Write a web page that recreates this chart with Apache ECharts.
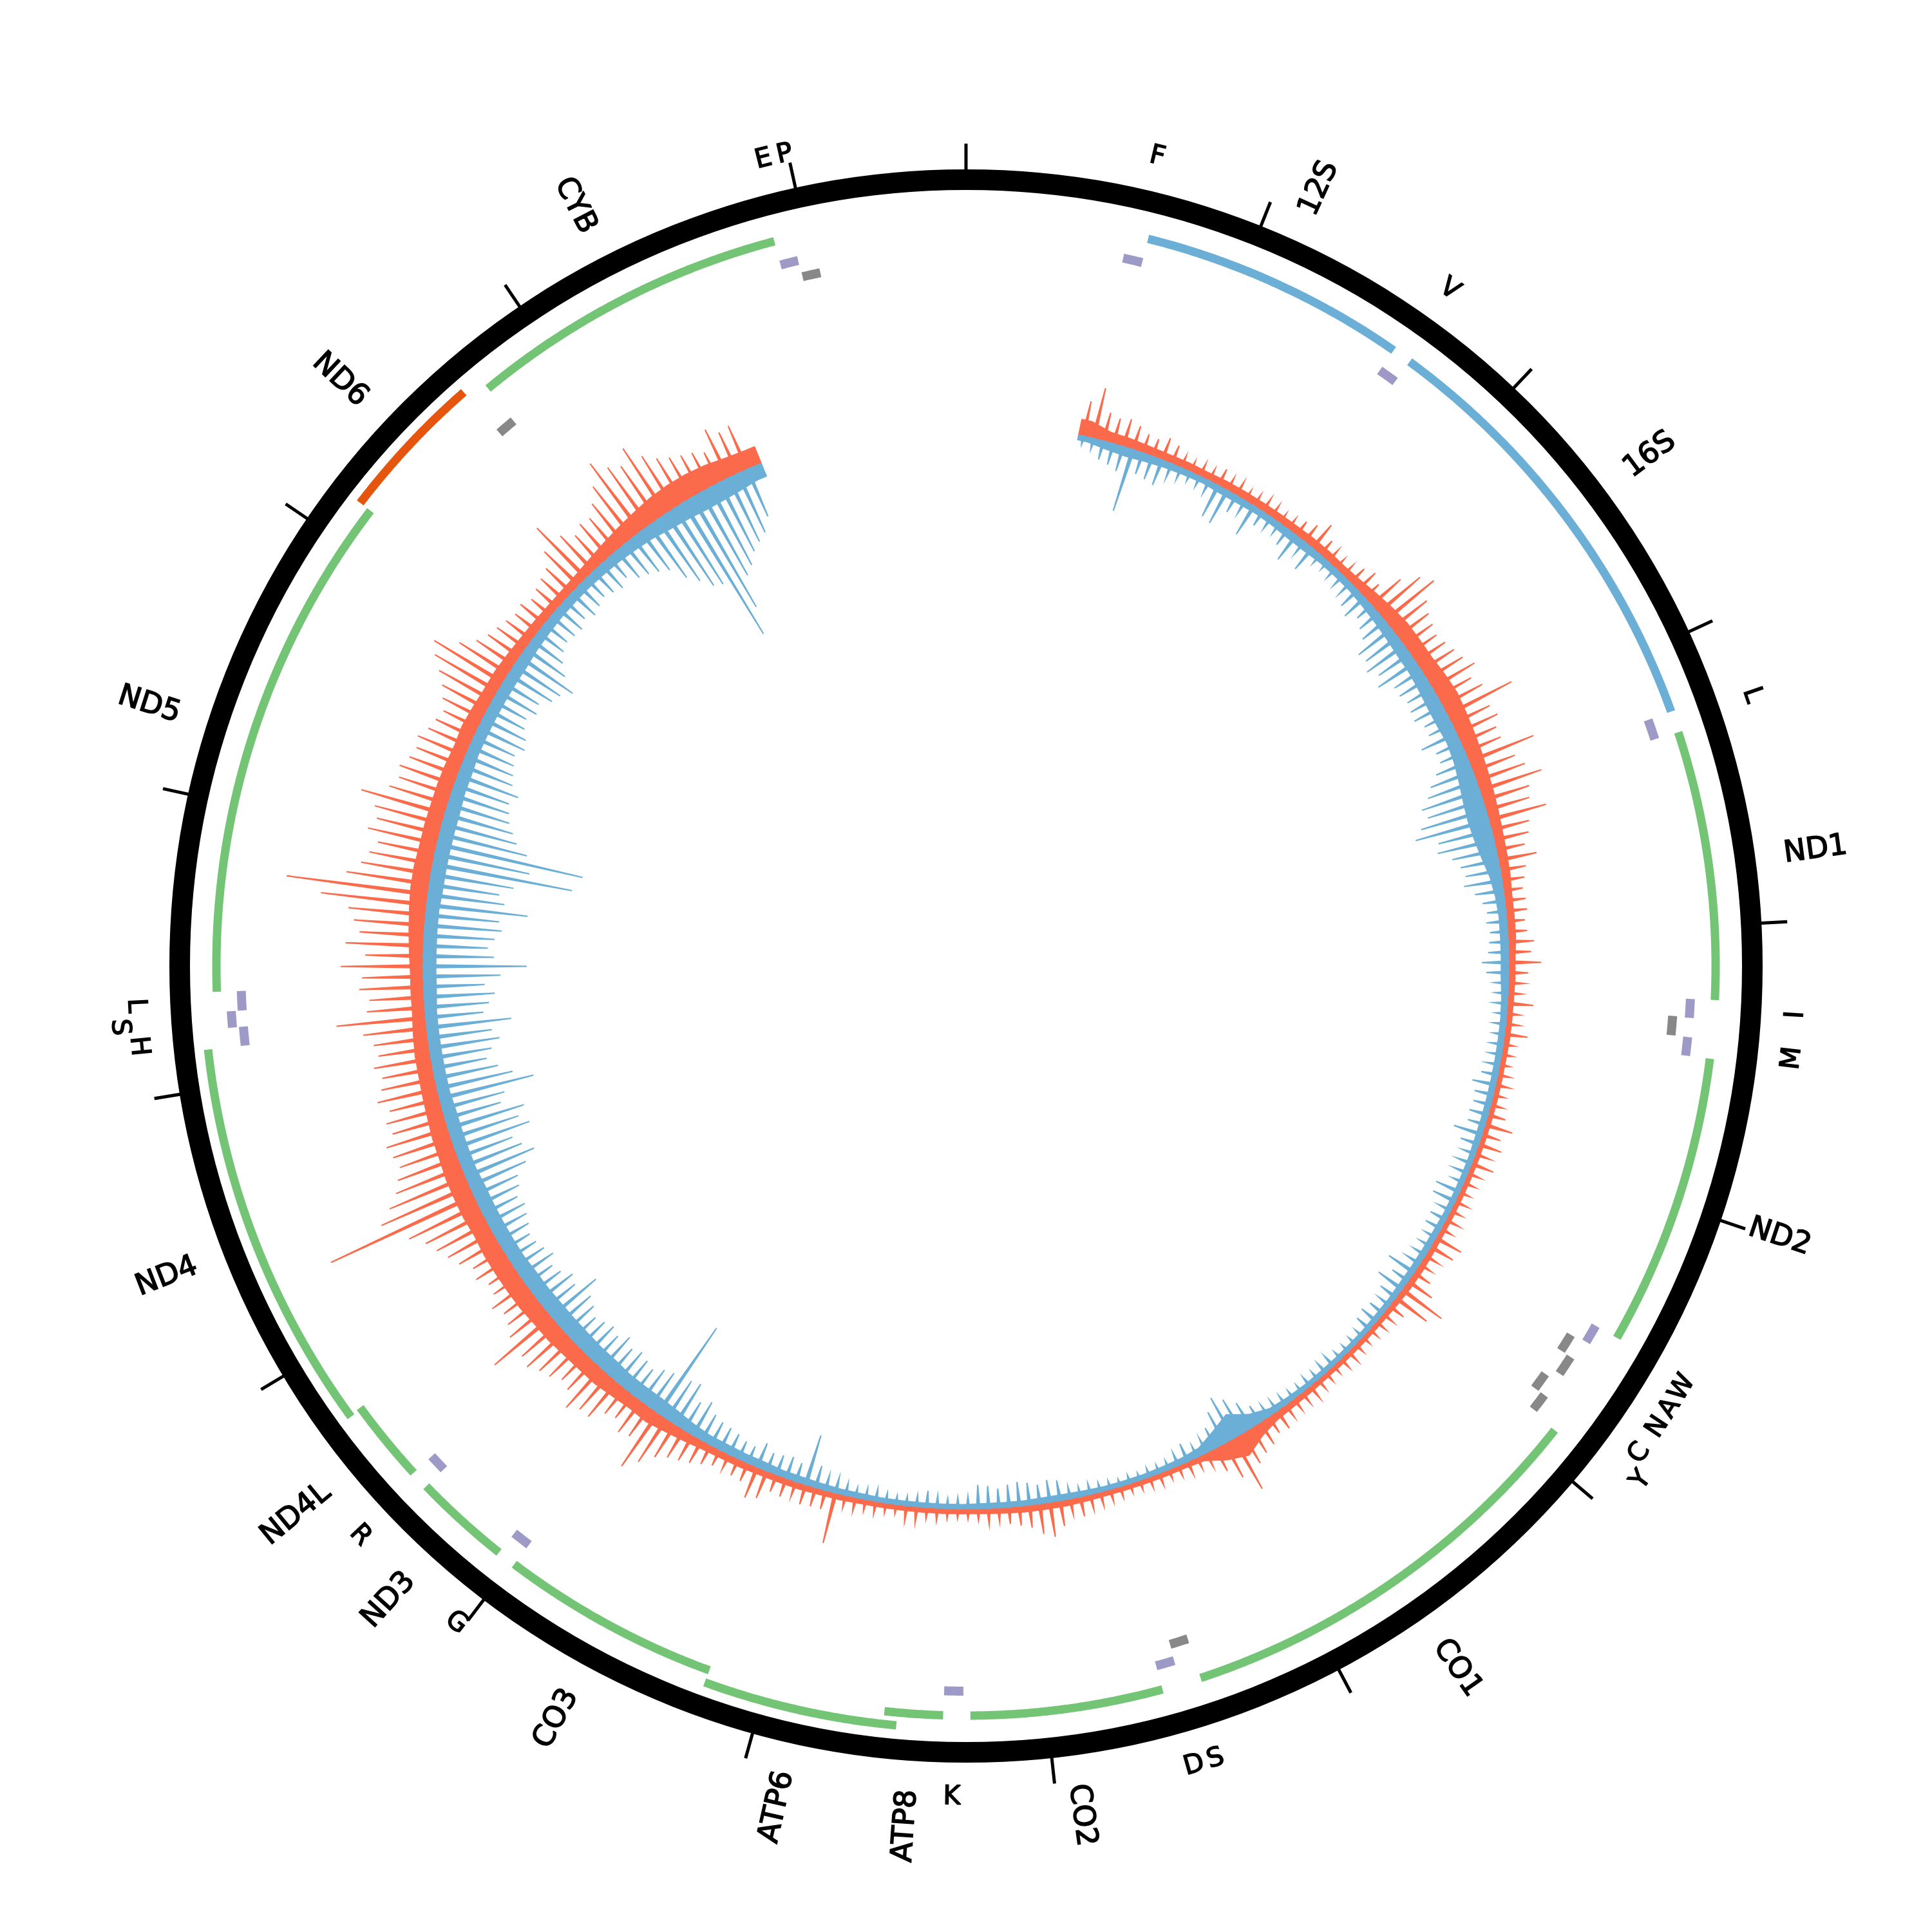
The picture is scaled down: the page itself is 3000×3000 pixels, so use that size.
<!DOCTYPE html>
<html>
<head>
<meta charset="utf-8">
<script src="https://cdn.jsdelivr.net/npm/echarts@6/dist/echarts.min.js"></script>
<style>html,body{margin:0;padding:0;background:#fff}#chart{width:3000px;height:3000px}</style>
</head>
<body>
<div id="chart"></div>
<script>
// ---------------- data ----------------
const GENOME_LENGTH = 16569;
const TICK_INTERVAL = 1000;

const geneNames  = ['12S','16S','ND1','ND2','CO1','CO2','ATP8','ATP6','CO3','ND3','ND4L','ND4','ND5','ND6','CYB'];
const geneStarts = [648,1671,3307,4470,5904,7586,8366,8527,9207,10059,10470,10760,12337,14149,14747];
const geneEnds   = [1601,3229,4262,5511,7445,8269,8572,9207,9990,10404,10766,12137,14148,14673,15887];
const geneKinds  = ['rRNA','rRNA','CDS','CDS','CDS','CDS','CDS','CDS','CDS','CDS','CDS','CDS','CDS','CDS_L','CDS'];

const trnaNames   = ['F','V','L','I','Q','M','W','A','N','C','Y','S','D','K','G','R','H','S','L','E','T','P'];
const trnaStarts  = [577,1602,3230,4263,4329,4402,5512,5587,5657,5761,5826,7446,7518,8295,9991,10405,12138,12207,12266,14674,15888,15956];
const trnaEnds    = [647,1670,3304,4331,4400,4469,5579,5655,5729,5826,5891,7514,7585,8364,10058,10469,12206,12265,12336,14742,15953,16023];
const trnaStrands = ['+','+','+','+','-','+','+','-','-','-','-','-','+','+','+','+','+','+','+','-','+','-'];
const trnaLabels  = ['F','V','L','I','','M','W','A','N','C','Y','S','D','K','G','R','H','S','L','','E','P'];

// coverage (outer = red, inner = blue); body every 100 bp, peaks every 50 bp, from bp 550
const coverageStart = 550;
const bodyStep = 100;
const peakStep = 50;
const outerBody = [
 25,16,15,13,12, 12,11,12,12,12, 12,12,13,13,12, 14,18,22,25,25, 25,28,30,28,26,
 24,22,20,18,16, 15,14,12,12,12, 10,10,9,9,9, 8,8,8,8,8, 8,8,8,8,8,
 9,10,10,9,8, 8,8,8,8,9, 10,12,20,35,25, 10,8,8,8,8, 8,9,10,10,10,
 9,8,8,8,8, 8,8,8,9,9, 10,10,10,11,11, 12,15,18,22,20, 22,25,25,26,28,
 28,30,30,30,30, 28,30,30,30,28, 28,26,25,24,24, 22,20,20,20,22, 24,26,28,28,26,
 26,25,25,24,22, 24,22,20,20,18, 16,15,14,14,15, 18,22,26,30,34, 36,36,34,30,28
];
const outerPeak = [
 55,80,45,40,44,38,30,28,36,30, 20,18,22,20,28,22,24,18,20,24,
 22,18,20,26,32,46,28,24,20,22, 30,38,30,60,85,98,70,60,55,50,
 55,60,65,76,60,70,112,65,70,60, 60,108,70,80,101,75,70,92,60,55,
 45,60,40,35,30,32,33,28,30,40, 35,50,30,25,22,40,20,22,36,18,
 18,16,20,22,18,20,28,44,30,37, 25,36,22,20,18,22,20,24,20,45,
 40,25,22,30,45,76,60,28,22,20, 18,16,18,22,20,16,18,20,25,22,
 22,24,33,30,40,45,54,90,60,40, 25,20,22,18,16,20,18,16,15,18,
 20,22,24,31,25,40,54,47,35,30, 26,22,25,18,16,15,16,20,18,25,
 25,15,16,20,18,22,20,80,30,30, 32,25,30,28,45,51,30,28,25,27,
 33,40,45,50,60,80,100,55,60,45, 50,70,70,82,60,55,65,70,80,75,
 116,70,60,55,65,50,48,60,55,70, 80,90,100,120,245,150,128,110,100,90,
 95,100,85,90,80,95,85,80,90,80, 85,99,139,90,85,100,95,128,90,121,
 100,110,120,165,221,130,110,100,90,110, 100,108,135,95,85,90,80,75,80,70,
 65,60,70,80,95,113,125,90,70,60, 55,50,45,48,40,45,50,55,75,109,
 75,60,68,65,80,100,131,110,100,121, 95,80,71,65,60,52,83,70,73
];
const innerBody = [
 8,12,14,12,10, 9,8,10,10,9, 10,12,12,10,10, 10,12,14,16,18, 18,20,22,22,20,
 22,26,30,32,30, 25,18,14,12,12, 12,12,10,9,9, 9,9,9,9,9, 8,8,8,8,9,
 9,9,9,8,8, 7,7,7,7,7, 8,10,20,38,25, 12,9,8,7,7, 7,8,9,9,8,
 8,8,7,7,7, 7,7,8,8,9, 10,10,12,12,13, 13,16,20,22,22, 22,24,24,25,25,
 25,24,24,22,22, 22,22,22,20,20, 20,20,18,18,18, 18,18,20,20,20, 20,20,22,22,22,
 22,22,20,20,18, 18,18,18,18,18, 16,15,14,14,14, 15,16,18,20,24, 26,28,28,26,22
];
const innerPeak = [
 14,18,30,34,40,100,35,38,42,25, 20,16,18,22,54,58,30,24,52,26,
 22,20,30,47,25,42,18,16,20,22, 25,35,42,30,38,45,65,62,71,59,
 70,50,50,45,48,50,40,40,60,42, 42,55,70,80,95,90,105,118,85,90,
 70,60,55,60,45,35,30,32,28,30, 32,42,35,22,20,22,18,20,18,20,
 20,22,26,37,30,28,30,28,46,30, 22,25,25,20,40,38,22,27,27,20,
 20,22,25,47,30,45,30,22,26,30, 26,16,15,14,15,21,20,16,18,15,
 16,18,20,22,30,45,60,72,55,35, 25,20,30,22,15,14,15,12,14,12,
 14,15,18,16,20,32,35,30,35,38, 35,30,35,37,20,18,16,20,26,18,
 15,14,16,20,18,16,20,25,25,35, 80,30,35,32,30,40,28,30,35,38,
 40,45,59,50,74,70,160,65,60,50, 55,60,54,65,54,60,55,50,60,67,
 90,60,67,55,50,62,55,50,48,55, 60,65,60,70,75,95,115,100,90,123,
 110,123,90,100,150,120,100,85,95,110, 100,132,90,100,110,95,120,161,110,100,
 110,120,115,158,120,110,130,220,150,232, 140,120,110,100,95,90,100,85,80,75,
 70,80,75,65,60,70,65,80,86,100, 75,60,50,45,48,50,42,50,45,40,
 45,50,42,55,60,67,75,100,116,134, 140,239,197,148,137,120,110,101,80
];

// ---------------- layout / style ----------------
const RING_R = 1221, RING_W = 32, TICK_LEN = 56;
const GENE_R = [1164, 1184], GENE_W = 13;
const TRNA_H_R = [1126, 1143], TRNA_L_R = [1100, 1118], TRNA_W = 14;
const COV_BASE = 843;
const GENE_LABEL_R = 1282, TRNA_LABEL_R = [1291, 1318];
const LABEL_CROWD_BP = 68;
const GENE_FONT = 46, TRNA_FONT = 41;
const FONT = '"DejaVu Sans", "Liberation Sans", sans-serif';
const KIND_COLORS = { rRNA: '#6baed6', CDS: '#74c476', CDS_L: '#e6550d' };
const TRNA_COLORS = { '+': '#9e9ac8', '-': '#888888' };
const OUTER_COLOR = '#fb6a4a', INNER_COLOR = '#6baed6';

// stagger features that touch/overlap the previous one on the same track
function staggerLevels(starts, ends, keep) {
  let prevEnd = -Infinity, prevLevel = 1;
  const out = [];
  for (let i = 0; i < starts.length; i++) {
    if (!keep(i)) { out.push(null); continue; }
    const level = (starts[i] - prevEnd <= 5) ? 1 - prevLevel : 0;
    prevEnd = ends[i]; prevLevel = level;
    out.push(level);
  }
  return out;
}
const geneLevels = staggerLevels(geneStarts, geneEnds, () => true);
const trnaHLevels = staggerLevels(trnaStarts, trnaEnds, i => trnaStrands[i] === '+');
const trnaLLevels = staggerLevels(trnaStarts, trnaEnds, i => trnaStrands[i] === '-');

const geneRows = geneNames.map((n, i) => [GENE_R[geneLevels[i]], geneStarts[i] - 1, geneEnds[i], i]);
const trnaRows = trnaNames.map((n, i) => {
  const plus = trnaStrands[i] === '+';
  const r = plus ? TRNA_H_R[trnaHLevels[i]] : TRNA_L_R[trnaLLevels[i]];
  return [r, trnaStarts[i] - 1, trnaEnds[i], i];
});

const labelRows = [];
const labelInfo = [];
geneNames.forEach((n, i) => {
  labelRows.push([GENE_LABEL_R, (geneStarts[i] + geneEnds[i]) / 2]);
  labelInfo.push({ text: n, radial: true });
});
{
  let prevMid = -Infinity, prevPushed = true;
  trnaLabels.forEach((t, i) => {
    if (!t) return;
    const mid = (trnaStarts[i] + trnaEnds[i]) / 2;
    const pushed = (mid - prevMid < LABEL_CROWD_BP) && !prevPushed;
    labelRows.push([TRNA_LABEL_R[pushed ? 1 : 0], mid]);
    labelInfo.push({ text: t, radial: false });
    prevMid = mid; prevPushed = pushed;
  });
}

function bodyRows(body) {
  const verts = [[coverageStart, body[0]]];
  body.forEach((v, i) => verts.push([coverageStart + bodyStep * i + bodyStep / 2, v]));
  verts.push([coverageStart + bodyStep * body.length, body[body.length - 1]]);
  const rows = [];
  for (let i = 0; i < verts.length - 1; i++) rows.push([COV_BASE, verts[i][0], verts[i][1], verts[i + 1][0], verts[i + 1][1]]);
  return rows;
}
function peakRows(peaks) {
  return peaks.map((v, i) => [COV_BASE, coverageStart + peakStep * i + peakStep / 2, v]);
}

function arcPoints(api, r, s, e) {
  const n = Math.max(2, Math.ceil((e - s) / 8) + 1);
  const pts = [];
  for (let k = 0; k < n; k++) pts.push(api.coord([r, s + (e - s) * k / (n - 1)]));
  return pts;
}

function arcSeries(rows, colorOf, width, z) {
  return {
    type: 'custom', coordinateSystem: 'polar', polarIndex: 0, silent: true, z: z,
    data: rows,
    renderItem: (params, api) => ({
      type: 'polyline',
      shape: { points: arcPoints(api, api.value(0), api.value(1), api.value(2)) },
      style: { stroke: colorOf(api.value(3)), lineWidth: width, fill: null, lineCap: 'butt', lineJoin: 'round' }
    })
  };
}

function bodySeries(rows, sign, color) {
  return {
    type: 'custom', coordinateSystem: 'polar', polarIndex: 0, silent: true, z: 2,
    data: rows,
    renderItem: (params, api) => {
      const b = api.value(0), p0 = api.value(1), v0 = api.value(2), p1 = api.value(3), v1 = api.value(4);
      return {
        type: 'polygon',
        shape: { points: [api.coord([b, p0]), api.coord([b + sign * v0, p0]), api.coord([b + sign * v1, p1]), api.coord([b, p1])] },
        style: { fill: color, stroke: color, lineWidth: 1 }
      };
    }
  };
}

function peakSeries(rows, sign, color) {
  const half = 8;
  return {
    type: 'custom', coordinateSystem: 'polar', polarIndex: 0, silent: true, z: 2,
    data: rows,
    renderItem: (params, api) => {
      const b = api.value(0), p = api.value(1), v = api.value(2);
      return {
        type: 'polygon',
        shape: { points: [api.coord([b, p - half]), api.coord([b + sign * v, p]), api.coord([b, p + half])] },
        style: { fill: color, stroke: color, lineWidth: 2 }
      };
    }
  };
}

const labelSeries = {
  type: 'custom', coordinateSystem: 'polar', polarIndex: 0, silent: true, z: 5,
  data: labelRows,
  renderItem: (params, api) => {
    const info = labelInfo[params.dataIndex];
    const r = api.value(0), pos = api.value(1);
    const p = api.coord([r, pos]);
    const c = api.coord([0, pos]);
    const phi = Math.atan2(p[1] - c[1], p[0] - c[0]);
    let rotation, align;
    if (info.radial) {
      const flip = pos > GENOME_LENGTH / 2;
      rotation = flip ? Math.PI - phi : -phi;
      align = flip ? 'right' : 'left';
    } else {
      const flip = pos > GENOME_LENGTH / 4 && pos < GENOME_LENGTH * 3 / 4;
      rotation = flip ? Math.PI / 2 - phi : -(phi + Math.PI / 2);
      align = 'center';
    }
    return {
      type: 'text', x: p[0], y: p[1], rotation: rotation,
      style: {
        text: info.text, fill: '#000', fontFamily: FONT,
        fontSize: info.radial ? GENE_FONT : TRNA_FONT,
        stroke: '#000', lineWidth: 1.6,
        align: align, verticalAlign: 'middle'
      }
    };
  }
};

const chart = echarts.init(document.getElementById('chart'), null, { renderer: 'canvas', width: 3000, height: 3000 });
chart.setOption({
  backgroundColor: '#ffffff',
  animation: false,
  textStyle: { fontFamily: FONT },
  polar: { center: [1500, 1500], radius: RING_R },
  angleAxis: {
    type: 'value', min: 0, max: GENOME_LENGTH, interval: TICK_INTERVAL,
    startAngle: 90, clockwise: true,
    axisLine: { show: true, lineStyle: { color: '#000', width: RING_W } },
    axisTick: { show: true, inside: false, length: TICK_LEN, lineStyle: { color: '#000', width: 5 } },
    axisLabel: { show: false },
    splitLine: { show: false }
  },
  radiusAxis: {
    type: 'value', min: 0, max: RING_R, show: false,
    axisLine: { show: false }, axisTick: { show: false }, axisLabel: { show: false }, splitLine: { show: false }
  },
  series: [
    bodySeries(bodyRows(outerBody), 1, OUTER_COLOR),
    peakSeries(peakRows(outerPeak), 1, OUTER_COLOR),
    bodySeries(bodyRows(innerBody), -1, INNER_COLOR),
    peakSeries(peakRows(innerPeak), -1, INNER_COLOR),
    arcSeries(geneRows, i => KIND_COLORS[geneKinds[i]], GENE_W, 3),
    arcSeries(trnaRows, i => TRNA_COLORS[trnaStrands[i]], TRNA_W, 3),
    labelSeries
  ]
});
</script>
</body>
</html>
